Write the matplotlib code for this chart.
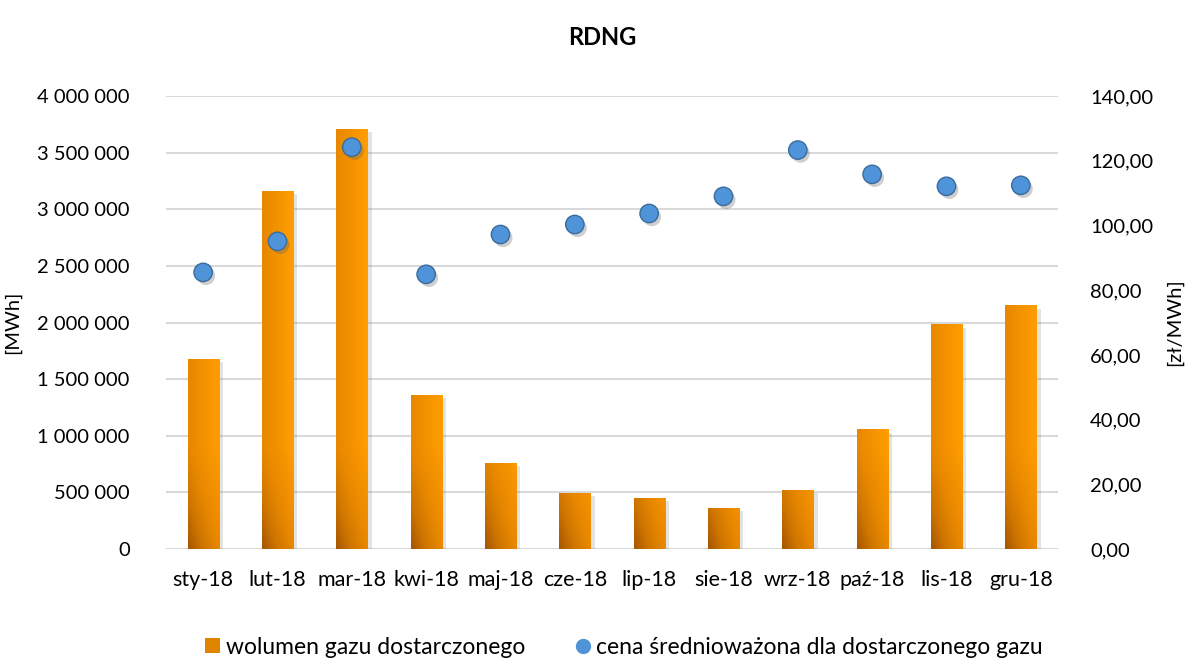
import matplotlib
matplotlib.use("Agg")
import matplotlib.pyplot as plt
import matplotlib.patheffects as pe
from matplotlib.lines import Line2D
from matplotlib.patches import Patch
from matplotlib.colors import LinearSegmentedColormap
from matplotlib.ticker import FuncFormatter, MultipleLocator
import numpy as np

plt.rcParams['font.family'] = ['Lato', 'DejaVu Sans']

# data
months = ['sty-18', 'lut-18', 'mar-18', 'kwi-18', 'maj-18', 'cze-18',
          'lip-18', 'sie-18', 'wrz-18', 'paź-18', 'lis-18', 'gru-18']
volume = [1672000, 3159000, 3708000, 1354000, 757000, 491000,
          447000, 358000, 518000, 1053000, 1980000, 2148000]
price = [85.5, 95.1, 124.2, 84.9, 97.2, 100.3,
         103.7, 109.0, 123.3, 115.8, 112.1, 112.4]

vol_label = 'wolumen gazu dostarczonego'
price_label = 'cena średnioważona dla dostarczonego gazu'

orange_cmap = LinearSegmentedColormap.from_list(
    'og', ['#A65700', '#D07600', '#E88800', '#F49200', '#FF9E00'])

fig = plt.figure(figsize=(11.89, 6.61), dpi=100)
ax = fig.add_axes([0.1396, 0.1694, 0.7502, 0.6853])
ax2 = ax.twinx()

x = np.arange(len(months))
width = 0.42

bars = ax.bar(x, volume, width=width, color='#E88A00', zorder=2,
              path_effects=[pe.SimplePatchShadow(offset=(3, -2), alpha=0.22,
                                                 shadow_rgbFace='#808080'),
                            pe.Normal()])

# diagonal gradient inside each bar (dark bottom-left, bright right side)
for rect, v in zip(bars, volume):
    x0 = rect.get_x()
    u = np.linspace(0, 1, 20)[None, :]
    yy = np.linspace(0, v, 200)[:, None]
    t = np.clip(0.5 * u + 0.5 * np.minimum(1, yy / 900000.0), 0, 1)
    ax.imshow(t, cmap=orange_cmap, vmin=0, vmax=1, origin='lower',
              extent=[x0, x0 + width, 0, v], aspect='auto',
              interpolation='bilinear', zorder=2.1, clip_path=rect)

ax.set_xlim(-0.5, len(months) - 0.5)
ax.set_ylim(0, 4000000)
ax.yaxis.set_major_locator(MultipleLocator(500000))
ax.yaxis.set_major_formatter(FuncFormatter(lambda v, p: f"{int(v):,}".replace(",", " ")))
ax.set_xticks(x)
ax.set_xticklabels(months)
ax.grid(axis='y', color='#D9D9D9', linewidth=1.5, zorder=0)
ax.set_axisbelow(True)

ax2.scatter(x, price, s=175, color='#4F93D8', edgecolor='#3A6C9C',
            linewidth=1, zorder=5,
            path_effects=[pe.SimplePatchShadow(offset=(2, -2.5), alpha=0.3,
                                               shadow_rgbFace='#606060'),
                          pe.Normal()])
ax2.set_ylim(0, 140)
ax2.yaxis.set_major_locator(MultipleLocator(20))
ax2.yaxis.set_major_formatter(FuncFormatter(lambda v, p: f"{v:.2f}".replace(".", ",")))

for a in (ax, ax2):
    for s in a.spines.values():
        s.set_visible(False)
    a.tick_params(length=0, labelsize=14.5, colors='#000000')
ax.tick_params(axis='y', pad=26)
ax2.tick_params(axis='y', pad=23)
ax.tick_params(axis='x', pad=15, labelsize=15.5)

ax.set_ylabel('[MWh]', fontsize=14.5, labelpad=12)
ax2.set_ylabel('[zł/MWh]', fontsize=14.5, rotation=90, labelpad=9)

fig.suptitle('RDNG', fontsize=17, fontweight='bold', x=602 / 1189, y=0.96)

handles = [Patch(facecolor='#E08400', edgecolor='none'),
           Line2D([], [], marker='o', linestyle='none', markersize=10,
                  markerfacecolor='#4F93D8', markeredgecolor='#4F93D8')]
fig.legend(handles, [vol_label, price_label], loc='center', ncol=2,
           bbox_to_anchor=(624 / 1189, 1 - 647 / 661), frameon=False,
           fontsize=16.5, handlelength=0.65, handleheight=0.65,
           handletextpad=0.25, columnspacing=2.2)

fig.savefig('out.png', dpi=100)
